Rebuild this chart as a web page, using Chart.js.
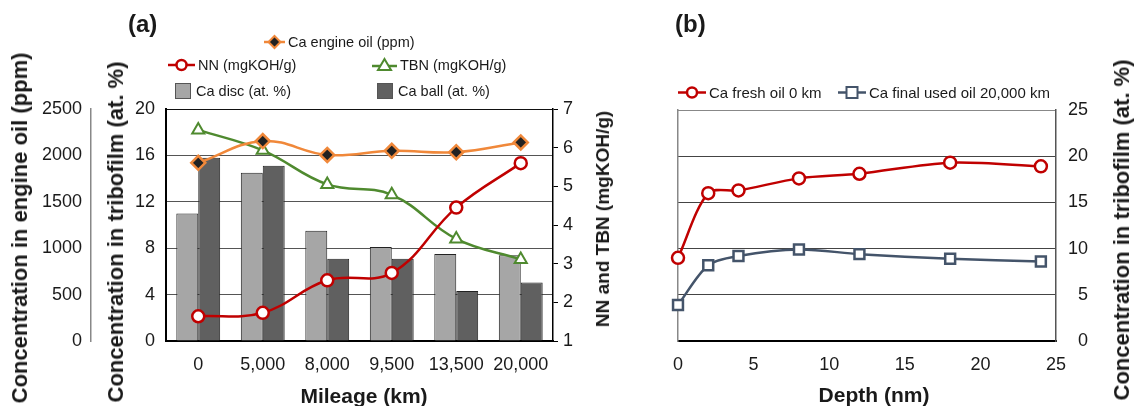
<!DOCTYPE html>
<html lang="en">
<head>
  <meta charset="UTF-8" />
  <title>Ca in engine oil and tribofilm</title>
  <script src="https://cdn.jsdelivr.net/npm/chart.js"></script>
  <style>
    body {
      margin: 0;
      width: 1137px;
      height: 406px;
      position: relative;
      overflow: hidden;
      background: #fff;
      font-family: "Liberation Sans", Arial, sans-serif;
      color: #1a1a1a;
    }
    canvas {
      position: absolute;
      top: 0;
    }
    #chartA { left: 0; }
    #chartB { left: 600px; }
    .panel {
      position: absolute;
      top: 10px;
      font-size: 24px;
      font-weight: bold;
    }
    .title {
      position: absolute;
      font-weight: bold;
      white-space: nowrap;
      transform: translate(-50%, -50%);
    }
    .vtitle {
      transform: translate(-50%, -50%) rotate(-90deg);
    }
    .leg {
      position: absolute;
      display: flex;
      align-items: center;
      white-space: nowrap;
      font-size: 15px;
      transform: translateY(-50%);
    }
    .leg.a { font-size: 14.5px; }
    .leg svg {
      margin-right: 3px;
    }
  </style>
</head>
<body>
  <canvas id="chartA" width="600" height="406"></canvas>
  <canvas id="chartB" width="537" height="406"></canvas>

  <div class="panel" style="left:128px;">(a)</div>
  <div class="panel" style="left:675px;">(b)</div>

  <!-- legend (a) -->
  <div class="leg a" style="left:264px; top:42px;">
    <svg width="21" height="16"><line x1="0" y1="8" x2="21" y2="8" stroke="#F0883A" stroke-width="2.5"/><polygon points="10.5,2 16.5,8 10.5,14 4.5,8" fill="#222" stroke="#F0883A" stroke-width="2"/></svg>Ca engine oil (ppm)
  </div>
  <div class="leg a" style="left:168px; top:65px;">
    <svg width="27" height="16"><line x1="0" y1="8" x2="27" y2="8" stroke="#C00000" stroke-width="2.5"/><circle cx="13.5" cy="8" r="5" fill="#fff" stroke="#C00000" stroke-width="2.5"/></svg>NN (mgKOH/g)
  </div>
  <div class="leg a" style="left:372px; top:65px;">
    <svg width="25" height="16"><line x1="0" y1="9" x2="25" y2="9" stroke="#4F8A2F" stroke-width="2.5"/><polygon points="12.5,2 19,13 6,13" fill="#fff" stroke="#4F8A2F" stroke-width="2"/></svg>TBN (mgKOH/g)
  </div>
  <div class="leg a" style="left:175px; top:91px;">
    <svg width="18" height="16"><rect x="0.5" y="0.5" width="15" height="15" fill="#A6A6A6" stroke="#555"/></svg>Ca disc (at. %)
  </div>
  <div class="leg a" style="left:377px; top:91px;">
    <svg width="18" height="16"><rect x="0.5" y="0.5" width="15" height="15" fill="#606060" stroke="#555"/></svg>Ca ball (at. %)
  </div>

  <!-- legend (b) -->
  <div class="leg" style="left:678px; top:92px;">
    <svg width="28" height="16"><line x1="0" y1="8" x2="28" y2="8" stroke="#C00000" stroke-width="2.5"/><circle cx="14" cy="8" r="5" fill="#fff" stroke="#C00000" stroke-width="2.5"/></svg>Ca fresh oil 0 km
  </div>
  <div class="leg" style="left:838px; top:92px;">
    <svg width="28" height="16"><line x1="0" y1="8" x2="28" y2="8" stroke="#44546A" stroke-width="2.5"/><rect x="8.5" y="2.5" width="11" height="11" fill="#fff" stroke="#44546A" stroke-width="2"/></svg>Ca final used oil 20,000 km
  </div>

  <!-- axis titles -->
  <div class="title vtitle" style="left:20px; top:228px; font-size:22px;">Concentration in engine oil (ppm)</div>
  <div class="title vtitle" style="left:116px; top:232px; font-size:22px;">Concentration in tribofilm (at. %)</div>
  <div class="title vtitle" style="left:603px; top:219px; font-size:19px;">NN and TBN (mgKOH/g)</div>
  <div class="title" style="left:364px; top:396px; font-size:21px;">Mileage (km)</div>
  <div class="title" style="left:874px; top:395px; font-size:21px;">Depth (nm)</div>
  <div class="title vtitle" style="left:1122px; top:230px; font-size:22px;">Concentration in tribofilm (at. %)</div>

  <script>
    // (a) mileage series
    const mileage = ["0", "5,000", "8,000", "9,500", "13,500", "20,000"];
    const caEngineOil = [1920, 2155, 2005, 2050, 2035, 2140];
    const nn = [1.64, 1.73, 2.57, 2.76, 4.45, 5.6];
    const tbn = [6.46, 5.93, 5.05, 4.78, 3.64, 3.11];
    const caDisc = [11.0, 14.5, 9.5, 8.1, 7.5, 7.4];
    const caBall = [15.8, 15.1, 7.1, 7.1, 4.3, 5.05];

    // (b) depth profile
    const depth = [0, 2, 4, 8, 12, 18, 24];
    const caFresh = [9.0, 16.0, 16.3, 17.6, 18.1, 19.3, 18.9];
    const caUsed = [3.9, 8.2, 9.2, 9.9, 9.4, 8.9, 8.6];

    Chart.defaults.font.family = "'Liberation Sans', Arial, sans-serif";
    Chart.defaults.font.size = 18;
    Chart.defaults.color = "#1a1a1a";

    const red = "#C00000";
    const green = "#4F8A2F";
    const orange = "#F0883A";
    const slate = "#44546A";

    new Chart(document.getElementById("chartA"), {
      type: "bar",
      data: {
        labels: mileage,
        datasets: [
          {
            type: "line", label: "Ca engine oil (ppm)", data: caEngineOil, yAxisID: "yOil",
            borderColor: orange, borderWidth: 2.5, tension: 0.4, clip: false,
            pointStyle: "rectRot", pointRadius: 7, pointBackgroundColor: "#222",
            pointBorderColor: orange, pointBorderWidth: 2.5, order: 0
          },
          {
            type: "line", label: "NN (mgKOH/g)", data: nn, yAxisID: "yR",
            borderColor: red, borderWidth: 2.5, tension: 0.4, clip: false,
            pointRadius: 6, pointBackgroundColor: "#fff",
            pointBorderColor: red, pointBorderWidth: 2.5, order: 0
          },
          {
            type: "line", label: "TBN (mgKOH/g)", data: tbn, yAxisID: "yR",
            borderColor: green, borderWidth: 2.5, tension: 0.4, clip: false,
            pointStyle: "triangle", pointRadius: 7, pointBackgroundColor: "#fff",
            pointBorderColor: green, pointBorderWidth: 2, order: 0
          },
          {
            label: "Ca disc (at. %)", data: caDisc, yAxisID: "yT",
            backgroundColor: "#A6A6A6", borderColor: "#222", borderWidth: 1,
            categoryPercentage: 0.68, barPercentage: 1, order: 1
          },
          {
            label: "Ca ball (at. %)", data: caBall, yAxisID: "yT",
            backgroundColor: "#606060", borderColor: "#222", borderWidth: 1,
            categoryPercentage: 0.68, barPercentage: 1, order: 1
          }
        ]
      },
      options: {
        responsive: false,
        animation: false,
        devicePixelRatio: 1,
        layout: { padding: { top: 109, left: 0, right: 0, bottom: 0 } },
        plugins: { legend: { display: false }, tooltip: { enabled: false } },
        scales: {
          x: {
            ticks: { padding: 13 },
            grid: { drawOnChartArea: false, drawTicks: false },
            border: { color: "#000", width: 2 },
            afterFit: s => { s.height = 65; }
          },
          yOil: {
            position: "left", weight: 2, min: 0, max: 2500,
            ticks: { stepSize: 500, padding: 9, callback: v => String(v) },
            grid: { drawOnChartArea: false, drawTicks: false },
            border: { color: "#888", width: 1.5 },
            afterFit: s => { s.width = 91; }
          },
          yT: {
            position: "left", weight: 1, min: 0, max: 20,
            ticks: { stepSize: 4, padding: 11 },
            grid: {
              drawTicks: false,
              color: c => (c.tick.value === 0 || c.tick.value === 20) ? "#111" : "#555"
            },
            border: { color: "#000", width: 2 },
            afterFit: s => { s.width = 75; }
          },
          yR: {
            position: "right", min: 1, max: 7,
            ticks: { stepSize: 1, padding: 5 },
            grid: { drawOnChartArea: false, tickLength: 5, tickColor: "#000" },
            border: { color: "#000", width: 1.5 },
            afterFit: s => { s.width = 47; }
          }
        }
      }
    });

    new Chart(document.getElementById("chartB"), {
      type: "line",
      data: {
        datasets: [
          {
            label: "Ca fresh oil 0 km", yAxisID: "y", clip: false,
            data: depth.map((d, i) => ({ x: d, y: caFresh[i] })),
            borderColor: red, borderWidth: 2.5, tension: 0.3,
            pointRadius: 6, pointBackgroundColor: "#fff",
            pointBorderColor: red, pointBorderWidth: 2.5
          },
          {
            label: "Ca final used oil 20,000 km", yAxisID: "y", clip: false,
            data: depth.map((d, i) => ({ x: d, y: caUsed[i] })),
            borderColor: slate, borderWidth: 2.5, tension: 0.3,
            pointStyle: "rect", pointRadius: 7, pointBackgroundColor: "#fff",
            pointBorderColor: slate, pointBorderWidth: 2.5
          }
        ]
      },
      options: {
        responsive: false,
        animation: false,
        devicePixelRatio: 1,
        layout: { padding: { top: 110, left: 0, right: 49, bottom: 0 } },
        plugins: { legend: { display: false }, tooltip: { enabled: false } },
        scales: {
          x: {
            type: "linear", min: 0, max: 25,
            ticks: { stepSize: 5, padding: 13 },
            grid: { drawOnChartArea: false, drawTicks: false },
            border: { color: "#000", width: 2 },
            afterFit: s => { s.height = 65; }
          },
          yL: {
            position: "left", min: 0, max: 25,
            ticks: { display: false },
            grid: { drawOnChartArea: false, drawTicks: false },
            border: { color: "#888", width: 1.5 },
            afterFit: s => { s.width = 78; }
          },
          y: {
            position: "right", min: 0, max: 25,
            ticks: { stepSize: 5, crossAlign: "far" },
            grid: {
              drawTicks: false,
              color: c => c.tick.value === 25 ? "#888" : "#444"
            },
            border: { color: "#555", width: 1.5 },
            afterFit: s => { s.width = 32; }
          }
        }
      }
    });
  </script>
</body>
</html>
